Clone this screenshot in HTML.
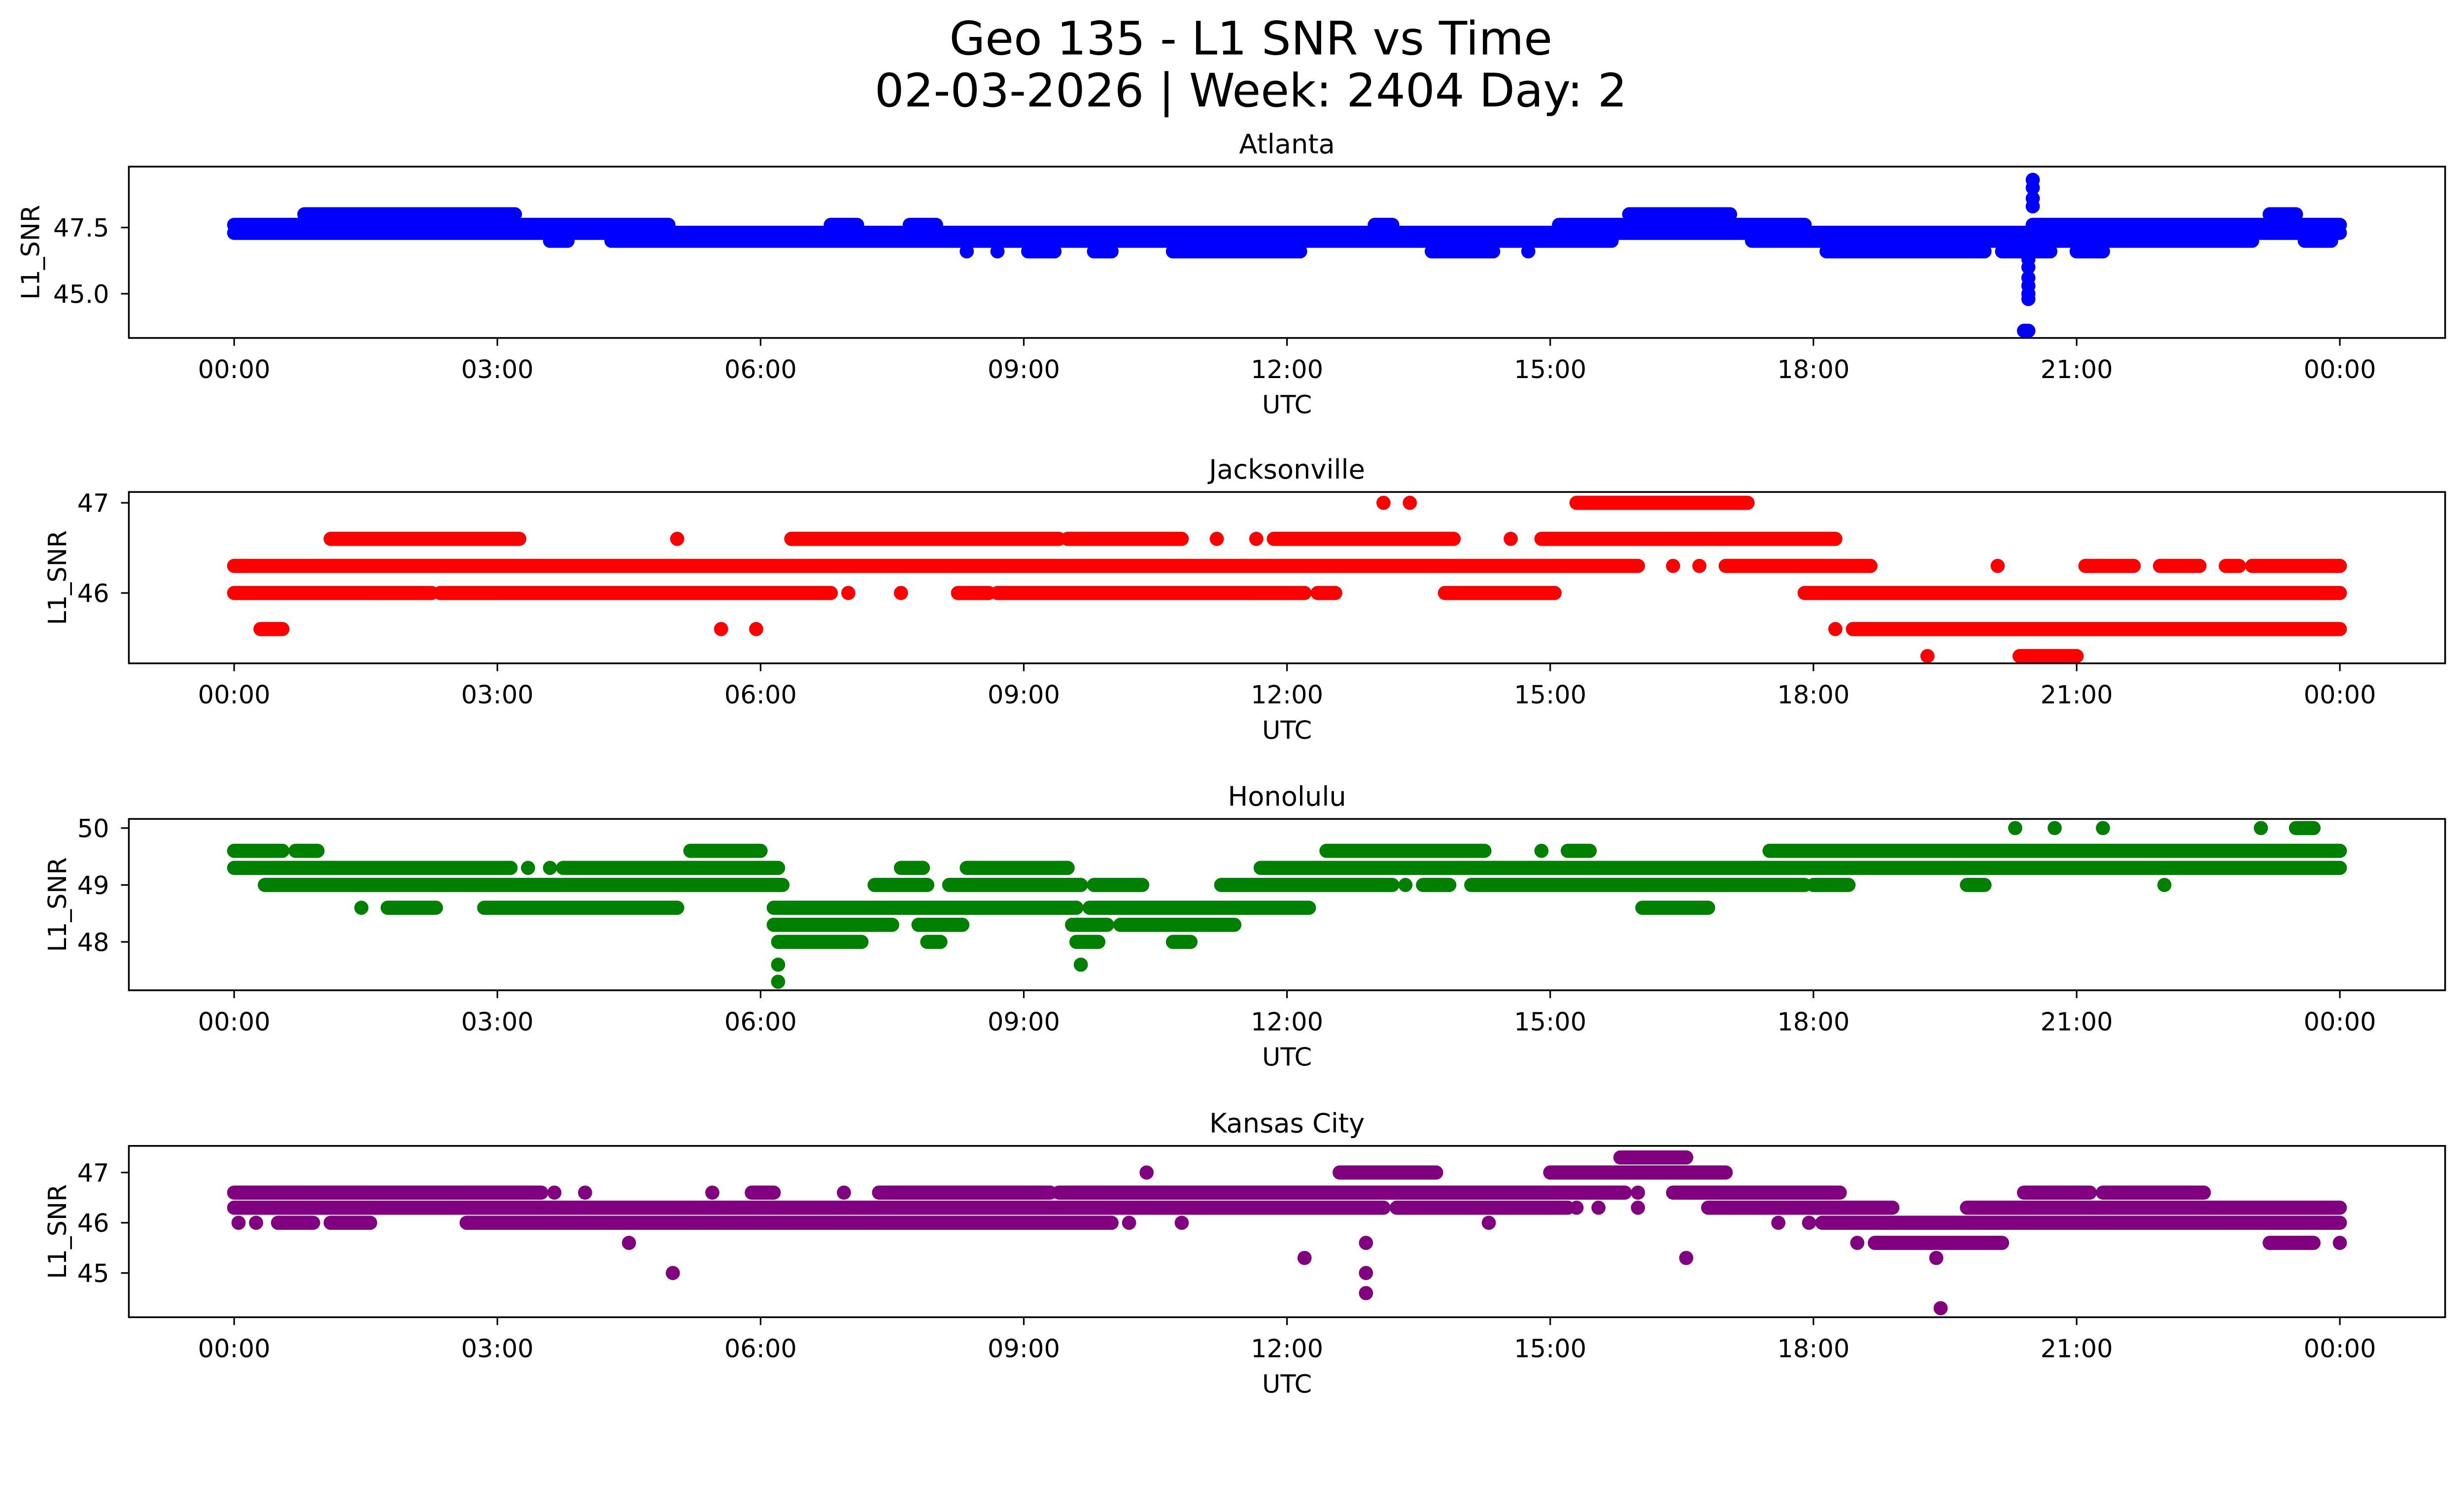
<!DOCTYPE html>
<html><head><meta charset="utf-8"><style>
html,body{margin:0;padding:0;background:#fff;overflow:hidden;width:100%;height:100%}
svg{display:block;width:100vw;height:57.465vw}
text{font-family:"DejaVu Sans","Liberation Sans",sans-serif;fill:#000}
</style></head><body>
<svg id="chart" viewBox="0 0 1568 901" preserveAspectRatio="none" xmlns="http://www.w3.org/2000/svg">
<text x="796" y="34.7" font-size="29.5" text-anchor="middle">Geo 135 - L1 SNR vs Time</text>
<text x="796" y="67.8" font-size="29.5" text-anchor="middle">02-03-2026 | Week: 2404 Day: 2</text>
</svg>
<script>
// x tick labels (hours)
const xTickHours = [0, 3, 6, 9, 12, 15, 18, 21, 24];
const xTickLabels = ["00:00","03:00","06:00","09:00","12:00","15:00","18:00","21:00","00:00"];
// panel names and colours
const stations = ["Atlanta", "Jacksonville", "Honolulu", "Kansas City"];
const colors = ["blue", "red", "green", "purple"];
// y-domains and ticks
const yDomains = [[43.33, 49.8], [45.22, 47.12], [47.15, 50.16], [44.12, 47.53]];
const yTicks = [[45.0, 47.5], [46, 47], [48, 49, 50], [45, 46, 47]];
const yTickLabels = [["45.0", "47.5"], ["46", "47"], ["48", "49", "50"], ["45", "46", "47"]];
// observation runs: [SNR value, start hour, end hour]
const atlantaRuns = [
 [48.0,0.8,3.2],[48.0,15.9,17.05],[48.0,23.2,23.5],
 [47.6,0,4.95],[47.6,6.8,7.1],[47.6,7.7,8.0],[47.6,13.0,13.2],[47.6,15.1,17.9],[47.6,20.5,24],
 [47.3,0,24],
 [47.0,3.6,3.8],[47.0,4.3,15.7],[47.0,17.3,23.0],[47.0,23.6,23.9],
 [46.6,8.35,8.35],[46.6,8.7,8.7],[46.6,9.05,9.35],[46.6,9.8,10.0],[46.6,10.7,12.15],[46.6,13.65,14.35],[46.6,14.75,14.75],[46.6,18.15,19.95],[46.6,20.15,20.7],[46.6,21.0,21.3],
 [49.3,20.5,20.5],[49.0,20.5,20.5],[48.6,20.5,20.5],[48.3,20.5,20.5],[47.6,20.5,20.5],
 [46.3,20.45,20.45],[46.0,20.45,20.45],[45.6,20.45,20.45],[45.3,20.45,20.45],[45.0,20.45,20.45],[44.8,20.45,20.45],[43.6,20.4,20.45]
];
const jacksonvilleRuns = [
 [47.0,13.1,13.1],[47.0,13.4,13.4],[47.0,15.3,17.25],
 [46.6,1.1,3.25],[46.6,5.05,5.05],[46.6,6.35,9.4],[46.6,9.5,10.8],[46.6,11.2,11.2],[46.6,11.65,11.65],[46.6,11.85,13.9],[46.6,14.55,14.55],[46.6,14.9,18.25],
 [46.3,0,16.0],[46.3,16.4,16.4],[46.3,16.7,16.7],[46.3,17.0,18.65],[46.3,20.1,20.1],[46.3,21.1,21.65],[46.3,21.95,22.4],[46.3,22.7,22.85],[46.3,23.0,24],
 [46.0,0,2.25],[46.0,2.35,6.8],[46.0,7.0,7.0],[46.0,7.6,7.6],[46.0,8.25,8.6],[46.0,8.7,12.2],[46.0,12.35,12.55],[46.0,13.8,15.05],[46.0,17.9,24],
 [45.6,0.3,0.55],[45.6,5.55,5.55],[45.6,5.95,5.95],[45.6,18.25,18.25],[45.6,18.45,24],
 [45.3,19.3,19.3],[45.3,20.35,21.0]
];
const honoluluRuns = [
 [50.0,20.3,20.3],[50.0,20.75,20.75],[50.0,21.3,21.3],[50.0,23.1,23.1],[50.0,23.5,23.7],
 [49.6,0,0.55],[49.6,0.7,0.95],[49.6,5.2,6.0],[49.6,12.45,14.25],[49.6,14.9,14.9],[49.6,15.2,15.45],[49.6,17.5,24],
 [49.3,0,3.15],[49.3,3.35,3.35],[49.3,3.6,3.6],[49.3,3.75,6.2],[49.3,7.6,7.85],[49.3,8.35,9.5],[49.3,11.7,24],
 [49.0,0.35,6.25],[49.0,7.3,7.9],[49.0,8.15,9.65],[49.0,9.8,10.35],[49.0,11.25,13.2],[49.0,13.35,13.35],[49.0,13.55,13.85],[49.0,14.1,17.9],[49.0,18.0,18.4],[49.0,19.75,19.95],[49.0,22.0,22.0],
 [48.6,1.45,1.45],[48.6,1.75,2.3],[48.6,2.85,5.05],[48.6,6.15,9.6],[48.6,9.75,12.25],[48.6,16.05,16.8],
 [48.3,6.15,7.5],[48.3,7.8,8.3],[48.3,9.55,9.95],[48.3,10.1,11.4],
 [48.0,6.2,7.15],[48.0,7.9,8.05],[48.0,9.6,9.85],[48.0,10.7,10.9],
 [47.6,6.2,6.2],[47.6,9.65,9.65],[47.3,6.2,6.2]
];
const kansasCityRuns = [
 [47.3,15.8,16.55],
 [47.0,10.4,10.4],[47.0,12.6,13.7],[47.0,15.0,17.0],
 [46.6,0,3.5],[46.6,3.65,3.65],[46.6,4.0,4.0],[46.6,5.45,5.45],[46.6,5.9,6.15],[46.6,6.95,6.95],[46.6,7.35,9.3],[46.6,9.4,15.85],[46.6,16.0,16.0],[46.6,16.4,18.3],[46.6,20.4,21.15],[46.6,21.3,22.45],
 [46.3,0,13.1],[46.3,13.25,15.2],[46.3,15.3,15.3],[46.3,15.55,15.55],[46.3,16.0,16.0],[46.3,16.8,18.9],[46.3,19.75,24],
 [46.0,0.05,0.05],[46.0,0.25,0.25],[46.0,0.5,0.9],[46.0,1.1,1.55],[46.0,2.65,10.0],[46.0,10.2,10.2],[46.0,10.8,10.8],[46.0,14.3,14.3],[46.0,17.6,17.6],[46.0,17.95,17.95],[46.0,18.1,24],
 [45.6,4.5,4.5],[45.6,12.9,12.9],[45.6,18.5,18.5],[45.6,18.7,20.15],[45.6,23.2,23.7],[45.6,24.0,24.0],
 [45.3,12.2,12.2],[45.3,16.55,16.55],[45.3,19.4,19.4],
 [45.0,5.0,5.0],[45.0,12.9,12.9],[44.6,12.9,12.9],[44.3,19.45,19.45]
];
const allRuns = [atlantaRuns, jacksonvilleRuns, honoluluRuns, kansasCityRuns];

const NS = "http://www.w3.org/2000/svg";
const svg = document.getElementById("chart");
const AX_L = 82, AX_R = 1556;
const panelTops = [106, 313, 521, 729];
const PH = 109;
const xDom = [-1.2, 25.2];
function xs(h){ return AX_L + (h - xDom[0]) / (xDom[1] - xDom[0]) * (AX_R - AX_L); }
function mk(tag, attrs, parent){
  const e = document.createElementNS(NS, tag);
  for (const k in attrs) e.setAttribute(k, attrs[k]);
  (parent || svg).appendChild(e);
  return e;
}
const R = 4.5;
stations.forEach((name, p) => {
  const top = panelTops[p], bot = top + PH;
  const dom = yDomains[p];
  const ys = v => bot - (v - dom[0]) / (dom[1] - dom[0]) * PH;
  const g = mk("g", {});
  
  
  const t = mk("text", {x: (AX_L + AX_R) / 2, y: top - 8.5, "font-size": 17, "text-anchor": "middle"}, g);
  t.textContent = name;
  
  
  const cp = mk("clipPath", {id: "clip" + p}, g);
  mk("rect", {x: AX_L, y: top, width: AX_R - AX_L, height: PH}, cp);
  const series = mk("g", {"clip-path": "url(#clip" + p + ")", fill: colors[p], stroke: colors[p]}, g);
  
  
  allRuns[p].forEach(r => {
    const y = ys(r[0]);
    let el;
    if (r[2] - r[1] < 0.01) {
      el = mk("circle", {cx: xs(r[1]), cy: y, r: R, stroke: "none"}, series);
    } else {
      el = mk("line", {x1: xs(r[1]), x2: xs(r[2]), y1: y, y2: y, "stroke-width": 2 * R, "stroke-linecap": "round"}, series);
    }
    
    
  });
  const fr = mk("rect", {x: AX_L, y: top, width: AX_R - AX_L, height: PH, fill: "none", stroke: "#000", "stroke-width": 1.1}, g);
  
  
  xTickHours.forEach((h, i) => {
    const x = xs(h);
    mk("line", {x1: x, x2: x, y1: bot, y2: bot + 5, stroke: "#000", "stroke-width": 1}, g);
    const tl = mk("text", {x: x, y: bot + 25.5, "font-size": 16, "text-anchor": "middle"}, g);
    tl.textContent = xTickLabels[i];
    
    
  });
  const xl = mk("text", {x: (AX_L + AX_R) / 2, y: bot + 48, "font-size": 16, "text-anchor": "middle"}, g);
  xl.textContent = "UTC";
  
  
  yTicks[p].forEach((v, i) => {
    const y = ys(v);
    mk("line", {x1: AX_L - 5, x2: AX_L, y1: y, y2: y, stroke: "#000", "stroke-width": 1}, g);
    const tl = mk("text", {x: AX_L - 12.5, y: y + 5.8, "font-size": 16, "text-anchor": "end"}, g);
    tl.textContent = yTickLabels[p][i];
    
    
  });
  const cy = top + PH / 2;
  const yl = mk("text", {x: 0, y: 0, "font-size": 16, "text-anchor": "middle", transform: "translate(" + (p === 0 ? 25 : 42) + "," + cy + ") rotate(-90)"}, g);
  yl.textContent = "L1_SNR";
  
  
});
</script>
</body></html>
